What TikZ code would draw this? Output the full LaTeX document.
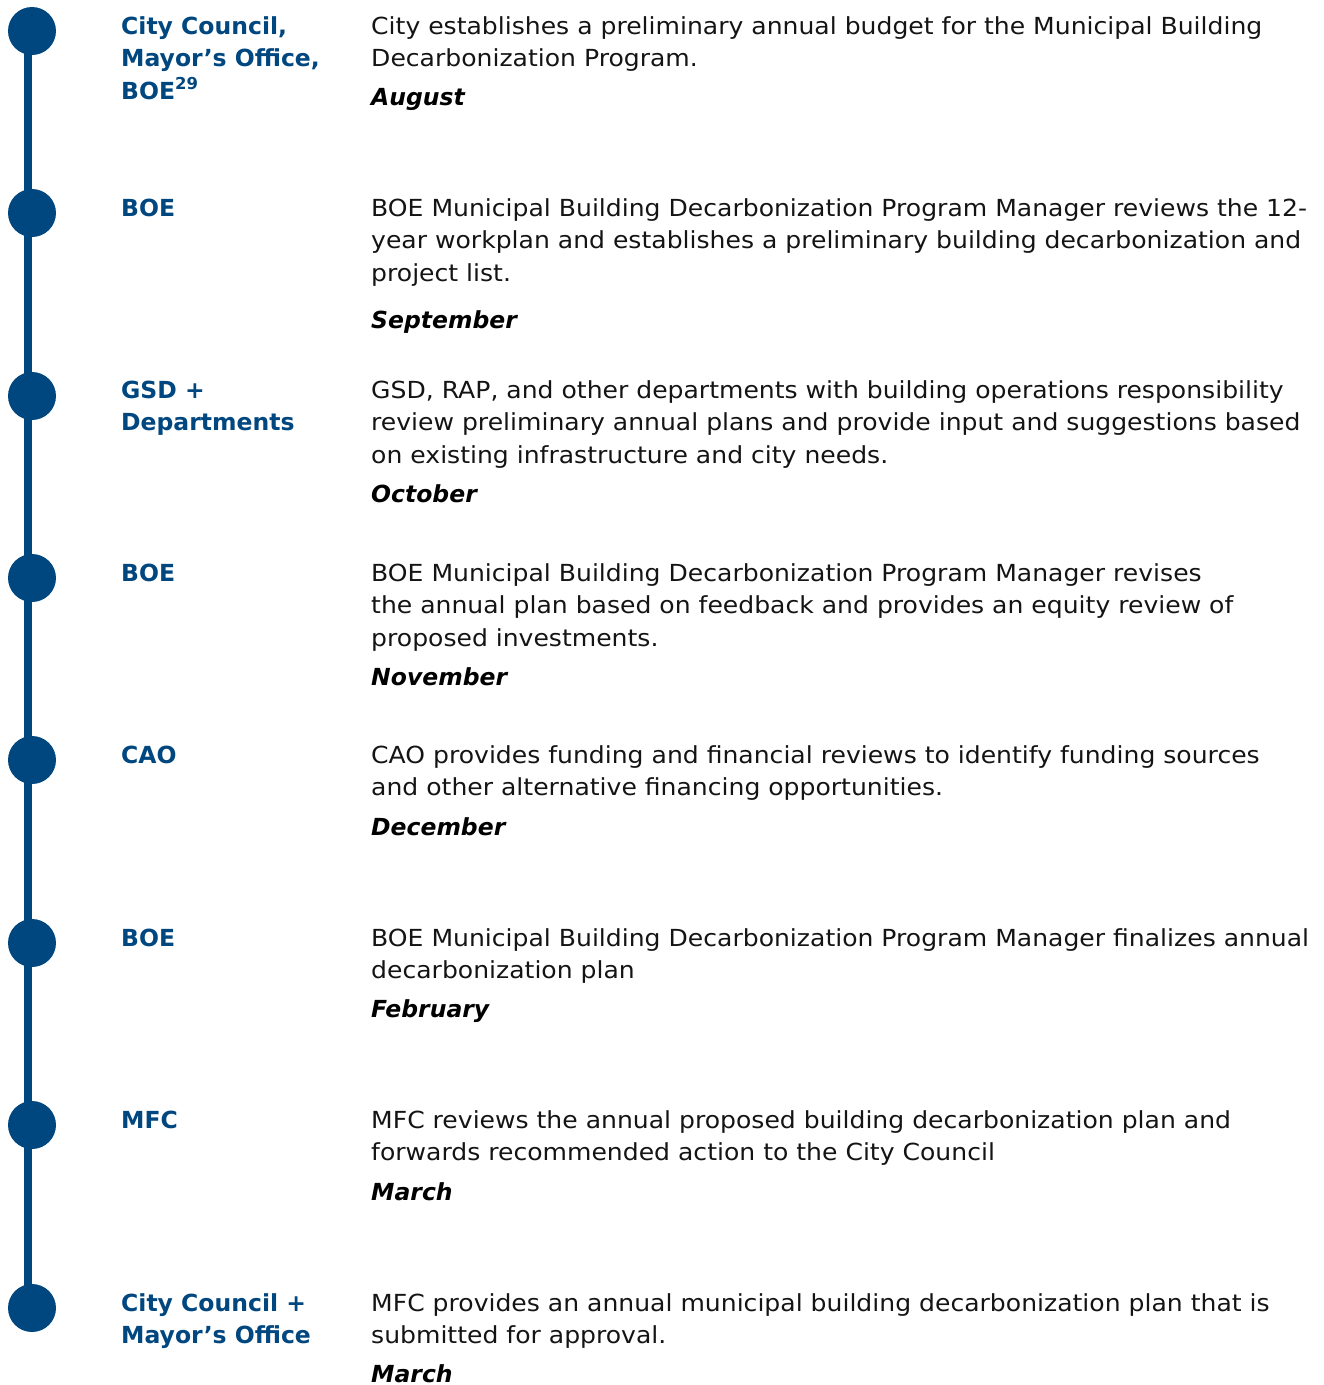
\documentclass[tikz,border=0pt]{standalone}
\usepackage{fontspec}
\setmainfont{DejaVu Sans}
\newfontfamily\bodyfont[FakeStretch=1.067]{DejaVu Sans}
\usetikzlibrary{backgrounds}
\definecolor{tlblue}{RGB}{0,70,127}
\definecolor{tltext}{RGB}{20,20,20}
\begin{document}
\begin{tikzpicture}[x=1pt,y=-1pt,
 dot/.style={circle,fill=tlblue,minimum size=48pt,inner sep=0},
 who/.style={anchor=base west,inner sep=0,align=left,text=tlblue,font=\fontsize{23.5}{32.5}\selectfont\bfseries},
 what/.style={anchor=base west,inner sep=0,align=left,text=tltext,font=\bodyfont\fontsize{23.5}{32.5}\selectfont},
 when/.style={anchor=base west,inner sep=0,font=\fontsize{23.5}{32.5}\selectfont\bfseries\itshape},
 spine/.style={line width=8pt,draw=tlblue}]
\useasboundingbox (0,0) rectangle (1324,1385);
% dots
\node[dot] (d1) at (32,31) {};
\node[dot] (d2) at (32,213) {};
\node[dot] (d3) at (32,396) {};
\node[dot] (d4) at (32,578) {};
\node[dot] (d5) at (32,760) {};
\node[dot] (d6) at (32,943) {};
\node[dot] (d7) at (32,1125) {};
\node[dot] (d8) at (32,1308) {};
\begin{pgfonlayer}{background}
\draw[spine] ([xshift=-4pt]d1.center) -- ([xshift=-4pt]d8.center);
\end{pgfonlayer}
% labels (anchor = baseline of last line)
\node[who] (w1) at (121,99) {City Council,\\Mayor’s Office,\\BOE\textsuperscript{29}};
\node[who] (w2) at (121,216) {BOE};
\node[who] (w3) at (121,430.5) {GSD +\\Departments};
\node[who] (w4) at (121,581) {BOE};
\node[who] (w5) at (121,763) {CAO};
\node[who] (w6) at (121,946) {BOE};
\node[who] (w7) at (121,1128) {MFC};
\node[who] (w8) at (121,1343.5) {City Council +\\Mayor’s Office};
% descriptions
\node[what] (t1) at (371,66.5) {City establishes a preliminary annual budget for the Municipal Building\\Decarbonization Program.};
\node[what] (t2) at (371,281) {BOE Municipal Building Decarbonization Program Manager reviews the 12-\\year workplan and establishes a preliminary building decarbonization and\\project list.};
\node[what] (t3) at (371,463) {GSD, RAP, and other departments with building operations responsibility\\review preliminary annual plans and provide input and suggestions based\\on existing infrastructure and city needs.};
\node[what] (t4) at (371,646) {BOE Municipal Building Decarbonization Program Manager revises\\the annual plan based on feedback and provides an equity review of\\proposed investments.};
\node[what] (t5) at (371,795.5) {CAO provides funding and financial reviews to identify funding sources\\and other alternative financing opportunities.};
\node[what] (t6) at (371,978.5) {BOE Municipal Building Decarbonization Program Manager finalizes annual\\decarbonization plan};
\node[what] (t7) at (371,1160.5) {MFC reviews the annual proposed building decarbonization plan and\\forwards recommended action to the City Council};
\node[what] (t8) at (371,1343.5) {MFC provides an annual municipal building decarbonization plan that is\\submitted for approval.};
% months
\node[when] (m1) at (371,105) {August};
\node[when] (m2) at (371,328) {September};
\node[when] (m3) at (371,502) {October};
\node[when] (m4) at (371,685) {November};
\node[when] (m5) at (371,835) {December};
\node[when] (m6) at (371,1017) {February};
\node[when] (m7) at (371,1200) {March};
\node[when] (m8) at (371,1382) {March};
\end{tikzpicture}
\end{document}
